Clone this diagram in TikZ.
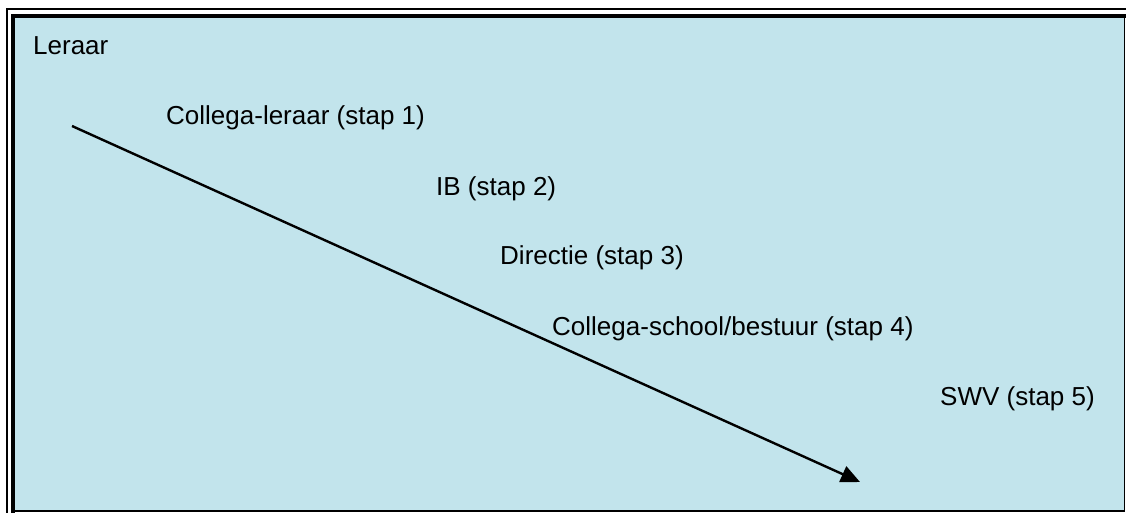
\documentclass[tikz,border=0pt]{standalone}
\usepackage{fontspec}
\setmainfont{Liberation Sans}
\usetikzlibrary{arrows.meta}
\definecolor{bgblue}{RGB}{194,228,236}
\tikzset{
  lbl/.style={inner sep=0pt, anchor=base west, font=\fontsize{26}{31}\selectfont},
  flow/.style={line width=2.4pt, -{Triangle[length=19pt,width=17pt]}}
}
\begin{document}
\begin{tikzpicture}[x=1pt,y=-1pt]
\useasboundingbox (0,0) rectangle (1126,513);
\fill[white] (0,0) rectangle (1126,513);
\fill[bgblue] (15,17) rectangle (1124,510);
% outer thin frame (left, top)
\draw[line width=2pt] (6.5,513) -- (6.5,9.5) -- (1126,9.5);
% inner thick frame (left, top)
\draw[line width=3.6pt] (13.2,513) -- (13.2,15.8) -- (1126,15.8);
% right and bottom edges
\draw[line width=1.6pt] (1124.6,15) -- (1124.6,510.8) -- (13,510.8);
% labels
\node[lbl] (leraar) at (33,55) {Leraar};
\node[lbl] (s1) at (166,125) {Collega-leraar (stap 1)};
\node[lbl] (s2) at (436,195) {IB (stap 2)};
\node[lbl] (s3) at (500,264) {Directie (stap 3)};
\node[lbl] (s4) at (552,335) {Collega-school/bestuur (stap 4)};
\node[lbl] (s5) at (940,405) {SWV (stap 5)};
% arrow
\coordinate (a) at (72,126);
\coordinate (b) at (860,482);
\draw[flow] (a) -- (b);
\end{tikzpicture}
\end{document}
